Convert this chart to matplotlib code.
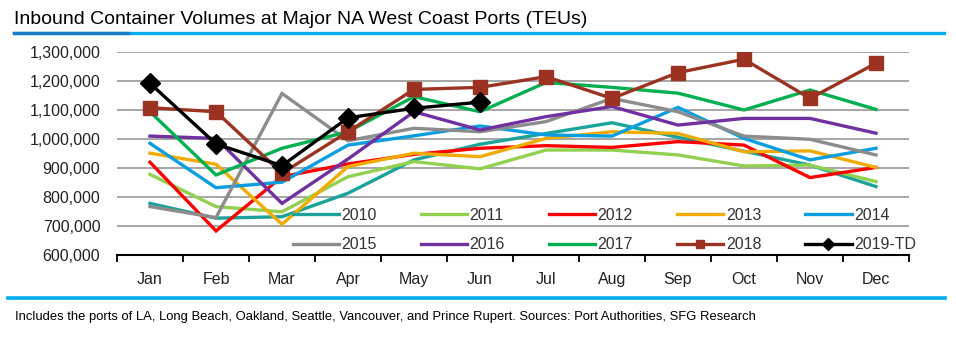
import matplotlib
matplotlib.use("Agg")
import matplotlib.pyplot as plt
from matplotlib.ticker import FuncFormatter, FixedLocator
import numpy as np

months = ['Jan', 'Feb', 'Mar', 'Apr', 'May', 'Jun', 'Jul', 'Aug', 'Sep', 'Oct', 'Nov', 'Dec']

y2010 = [778, 727, 732, 813, 928, 982, 1019, 1056, 1006, 958, 910, 836]
y2011 = [878, 767, 749, 870, 922, 897, 962, 962, 945, 907, 910, 853]
y2012 = [920, 683, 870, 914, 947, 968, 977, 971, 991, 979, 867, 902]
y2013 = [951, 913, 706, 905, 951, 939, 1002, 1025, 1019, 956, 959, 902]
y2014 = [985, 832, 851, 979, 1011, 1045, 1014, 1010, 1109, 1002, 928, 968]
y2015 = [767, 729, 1157, 994, 1037, 1025, 1060, 1140, 1094, 1010, 999, 945]
y2016 = [1010, 1002, 778, 931, 1094, 1031, 1077, 1112, 1048, 1071, 1071, 1020]
y2017 = [1094, 876, 968, 1025, 1146, 1094, 1195, 1178, 1158, 1100, 1169, 1102]
y2018 = [1108, 1094, 882, 1025, 1171, 1178, 1215, 1140, 1229, 1275, 1140, 1261]
y2019 = [1192, 983, 908, 1073, 1106, 1127]

series_labels = ['2010', '2011', '2012', '2013', '2014', '2015', '2016', '2017', '2018', '2019-TD']
series_values = [y2010, y2011, y2012, y2013, y2014, y2015, y2016, y2017, y2018, y2019]
colors = ['#1aa39b', '#92d050', '#ff0000', '#f0ab00', '#0a9ee0', '#8c8c8c',
          '#7030a0', '#00b050', '#9c3322', '#000000']
markers = [None] * 8 + ['s', 'D']

yticks = [600000, 700000, 800000, 900000, 1000000, 1100000, 1200000, 1300000]

plt.rcParams['font.family'] = ['Liberation Sans', 'DejaVu Sans']

fig = plt.figure(figsize=(9.56, 3.43), dpi=100)
ax = fig.add_axes([117 / 956, 1 - 255 / 343, (909 - 117) / 956, (255 - 52) / 343])

x = np.arange(len(months))
handles = []
for lab, vals, c, m in zip(series_labels, series_values, colors, markers):
    v = np.array(vals) * 1000
    h, = ax.plot(x[:len(v)], v, color=c, lw=2.4, marker=m, markersize=9.5 if m == 's' else 10,
                 markerfacecolor=c, markeredgecolor=c, label=lab, zorder=3 if m is None else 4,
                 solid_joinstyle='miter')
    handles.append(h)

ax.set_xlim(-0.5, 11.5)
ax.set_ylim(600000, 1300000)
ax.set_yticks(yticks)
ax.yaxis.set_major_formatter(FuncFormatter(lambda v, p: f'{int(v):,}'))
ax.yaxis.grid(True, color='#a6a6a6', lw=1.4, zorder=0)
ax.set_axisbelow(True)
ax.tick_params(axis='y', length=0, pad=12, labelsize=11.5, labelcolor='#222222')

ax.set_xticks(x)
ax.set_xticklabels(months)
ax.tick_params(axis='x', which='major', length=0, pad=12, labelsize=11.5, labelcolor='#222222')
ax.xaxis.set_minor_locator(FixedLocator(np.arange(-0.5, 12, 1)))
ax.tick_params(axis='x', which='minor', length=5, width=1.3, color='black', direction='out')

for s in ['left', 'right', 'top']:
    ax.spines[s].set_visible(False)
ax.spines['bottom'].set_color('black')
ax.spines['bottom'].set_linewidth(1.5)

order = [0, 5, 1, 6, 2, 7, 3, 8, 4, 9]
leg = ax.legend(handles=[handles[i] for i in order], ncol=5, loc='upper left',
                bbox_to_anchor=(293 / 956, 1 - 208 / 343), bbox_transform=fig.transFigure,
                frameon=False, fontsize=11.5, handlelength=2.9, handletextpad=0.15,
                columnspacing=2.75, labelspacing=0.9, borderpad=0, borderaxespad=0,
                markerscale=0.6)
for t in leg.get_texts():
    t.set_color('#333333')

fig.text(14 / 956, 1 - 19 / 343, 'Inbound Container Volumes at Major NA West Coast Ports (TEUs)',
         fontsize=14, va='center', ha='left', color='black')

fig.add_artist(plt.Line2D([14 / 956, 944 / 956], [1 - 33 / 343, 1 - 33 / 343], color='#00aeef', lw=2.4,
                          transform=fig.transFigure))
fig.add_artist(plt.Line2D([14 / 956, 128 / 956], [1 - 33 / 343, 1 - 33 / 343], color='#1a7cc4', lw=2.4,
                          transform=fig.transFigure))
fig.add_artist(plt.Line2D([8 / 956, 945 / 956], [1 - 298 / 343, 1 - 298 / 343], color='#00aeef', lw=2.6,
                          transform=fig.transFigure))

fig.text(15 / 956, 1 - 317 / 343,
         'Includes the ports of LA, Long Beach, Oakland, Seattle, Vancouver, and Prince Rupert. Sources: Port Authorities, SFG Research',
         fontsize=9.4, va='center', ha='left', color='black')

fig.savefig('out.png', dpi=100)
